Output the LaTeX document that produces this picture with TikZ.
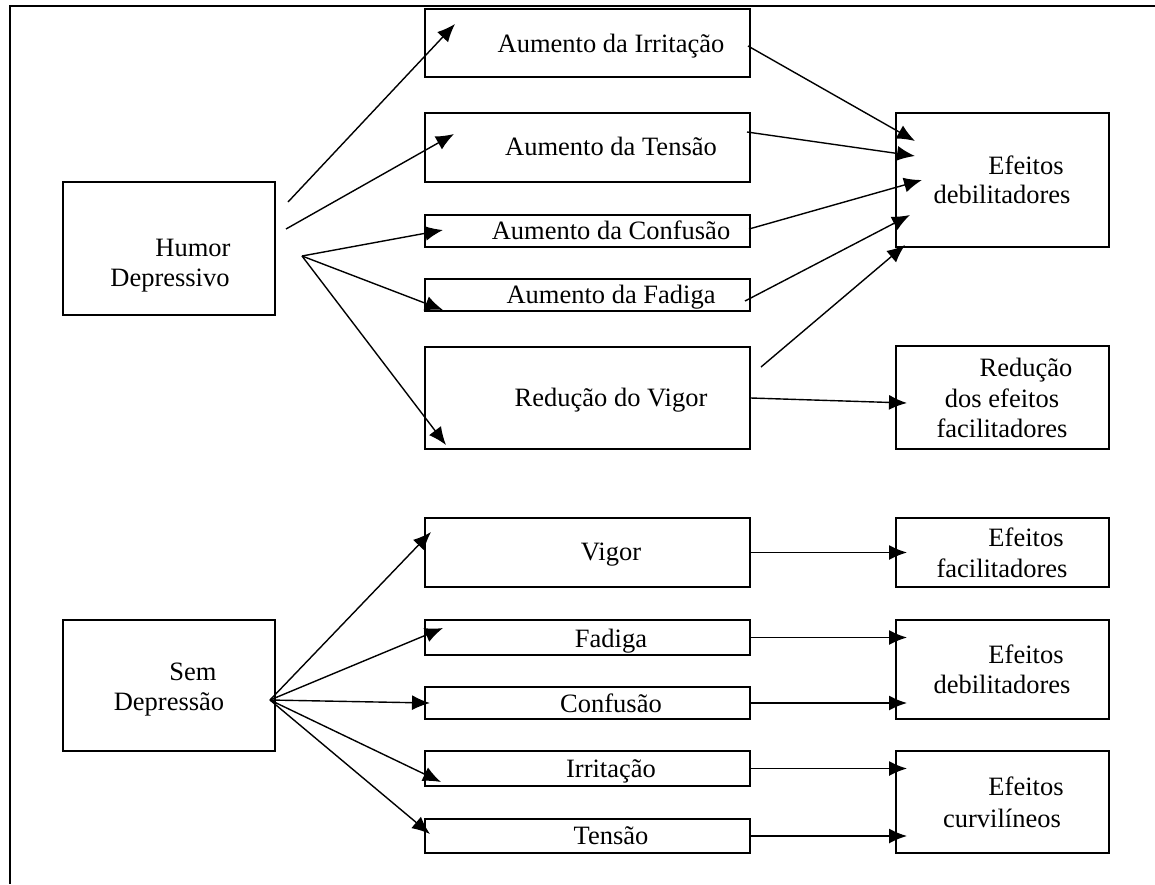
\documentclass[tikz,border=0pt]{standalone}
\usepackage{fontspec}
\setmainfont{Liberation Serif}
\usetikzlibrary{arrows.meta,calc}
\begin{document}
\begin{tikzpicture}[x=1pt,y=-1pt,
  box/.style={draw,line width=1.8pt,rectangle,inner sep=0pt,minimum width=325pt},
  sidebox/.style={draw,line width=1.8pt,rectangle,inner sep=0pt,minimum width=212pt},
  txt/.style={anchor=base,inner sep=0pt,font=\fontsize{26.5}{30}\selectfont},
  arr/.style={line width=1.4pt,-{Latex[length=18pt,width=15pt]}},
  frame/.style={line width=1.6pt}]
\useasboundingbox (0,0) rectangle (1155,884);
% frame
\coordinate (fTL) at (10,6);
\coordinate (fTR) at (1155,6);
\coordinate (fBL) at (10,884);
\draw[frame] (fTR) -- (fTL) -- (fBL);

% left boxes
\node[sidebox,minimum height=133pt] (hd) at (169,248.5) {};
\node[txt] (hdA) at (193,256) {Humor};
\node[txt] (hdB) at (170,286) {Depressivo};
\node[sidebox,minimum height=131pt] (sd) at (169,685.5) {};
\node[txt] (sdA) at (193,680) {Sem};
\node[txt] (sdB) at (169,710) {Depressão};

% middle boxes (top)
\node[box,minimum height=68pt] (ai) at (587.5,43) {};
\node[txt] (aiL) at (611,52) {Aumento da Irritação};
\node[box,minimum height=69pt] (at) at (587.5,147.5) {};
\node[txt] (atL) at (611,155) {Aumento da Tensão};
\node[box,minimum height=32pt] (ac) at (587.5,231) {};
\node[txt] (acL) at (611,239) {Aumento da Confusão};
\node[box,minimum height=32pt] (af) at (587.5,295) {};
\node[txt] (afL) at (611,303) {Aumento da Fadiga};
\node[box,minimum height=102pt] (rv) at (587.5,398) {};
\node[txt] (rvL) at (611,406) {Redução do Vigor};

% middle boxes (bottom)
\node[box,minimum height=69pt] (vg) at (587.5,552.5) {};
\node[txt] (vgL) at (611,560) {Vigor};
\node[box,minimum height=35pt] (fd) at (587.5,637.5) {};
\node[txt] (fdL) at (611,647) {Fadiga};
\node[box,minimum height=32pt] (cf) at (587.5,703) {};
\node[txt] (cfL) at (611,712) {Confusão};
\node[box,minimum height=35pt] (ir) at (587.5,768.5) {};
\node[txt] (irL) at (611,777) {Irritação};
\node[box,minimum height=34pt] (te) at (587.5,836) {};
\node[txt] (teL) at (611,844) {Tensão};

% right boxes
\node[sidebox,minimum width=213pt,minimum height=134pt] (ed) at (1002.5,180) {};
\node[txt] (edA) at (1026,174) {Efeitos};
\node[txt] (edB) at (1002,203) {debilitadores};
\node[sidebox,minimum width=213pt,minimum height=103pt] (rf) at (1002.5,397.5) {};
\node[txt] (rfA) at (1026,376) {Redução};
\node[txt] (rfB) at (1002,407) {dos efeitos};
\node[txt] (rfC) at (1002,437) {facilitadores};
\node[sidebox,minimum width=213pt,minimum height=69pt] (ef) at (1002.5,552.5) {};
\node[txt] (efA) at (1026,546) {Efeitos};
\node[txt] (efB) at (1002,577) {facilitadores};
\node[sidebox,minimum width=213pt,minimum height=99pt] (ed2) at (1002.5,669.5) {};
\node[txt] (edcA) at (1026,663) {Efeitos};
\node[txt] (edcB) at (1002,693) {debilitadores};
\node[sidebox,minimum width=213pt,minimum height=102pt] (ec) at (1002.5,802) {};
\node[txt] (ecA) at (1026,795) {Efeitos};
\node[txt] (ecB) at (1002,827) {curvilíneos};

% coordinates for free ends (top part)
\coordinate (h1) at (288,202);
\coordinate (h2) at (286,229);
\coordinate (hj) at (302,256);
\coordinate (aiT) at (455,24);
\coordinate (atT) at (454,134);
\coordinate (acT) at (443,230);
\coordinate (afT) at (443,310);
\coordinate (rvT) at (446,445);
\coordinate (aiS) at (748,46);
\coordinate (atS) at (747,132);
\coordinate (acS) at (749,229);
\coordinate (afS) at (745,301);
\coordinate (rvS) at (761,367);
\coordinate (ed1) at (915,141);
\coordinate (ed2T) at (915,156);
\coordinate (ed3) at (922,180);
\coordinate (ed4) at (910,215);
\coordinate (ed5) at (905,245);
\coordinate (rfT) at (907,403);

\draw[arr] (h1) -- (aiT);
\draw[arr] (h2) -- (atT);
\draw[arr] (hj) -- (acT);
\draw[arr] (hj) -- (afT);
\draw[arr] (hj) -- (rvT);
\draw[arr] (aiS) -- (ed1);
\draw[arr] (atS) -- (ed2T);
\draw[arr] (acS) -- (ed3);
\draw[arr] (afS) -- (ed4);
\draw[arr] (rvS) -- (ed5);
\draw[arr] (rv.east) -- (rfT);

% bottom part
\coordinate (sj) at (270,700);
\coordinate (vgT) at (431,532);
\coordinate (fdT) at (443,628);
\coordinate (cfT) at (430,703);
\coordinate (irT) at (441,782);
\coordinate (teT) at (430,834);
\coordinate (tipx) at (907,0);

\draw[arr] (sj) -- (vgT);
\draw[arr] (sj) -- (fdT);
\draw[arr] (sj) -- (cfT);
\draw[arr] (sj) -- (irT);
\draw[arr] (sj) -- (teT);

\draw[arr] (vg.east) -- (vg.east -| tipx);
\draw[arr] (fd.east) -- (fd.east -| tipx);
\draw[arr] (cf.east) -- (cf.east -| tipx);
\draw[arr] (ir.east) -- (ir.east -| tipx);
\draw[arr] (te.east) -- (te.east -| tipx);
\end{tikzpicture}
\end{document}
